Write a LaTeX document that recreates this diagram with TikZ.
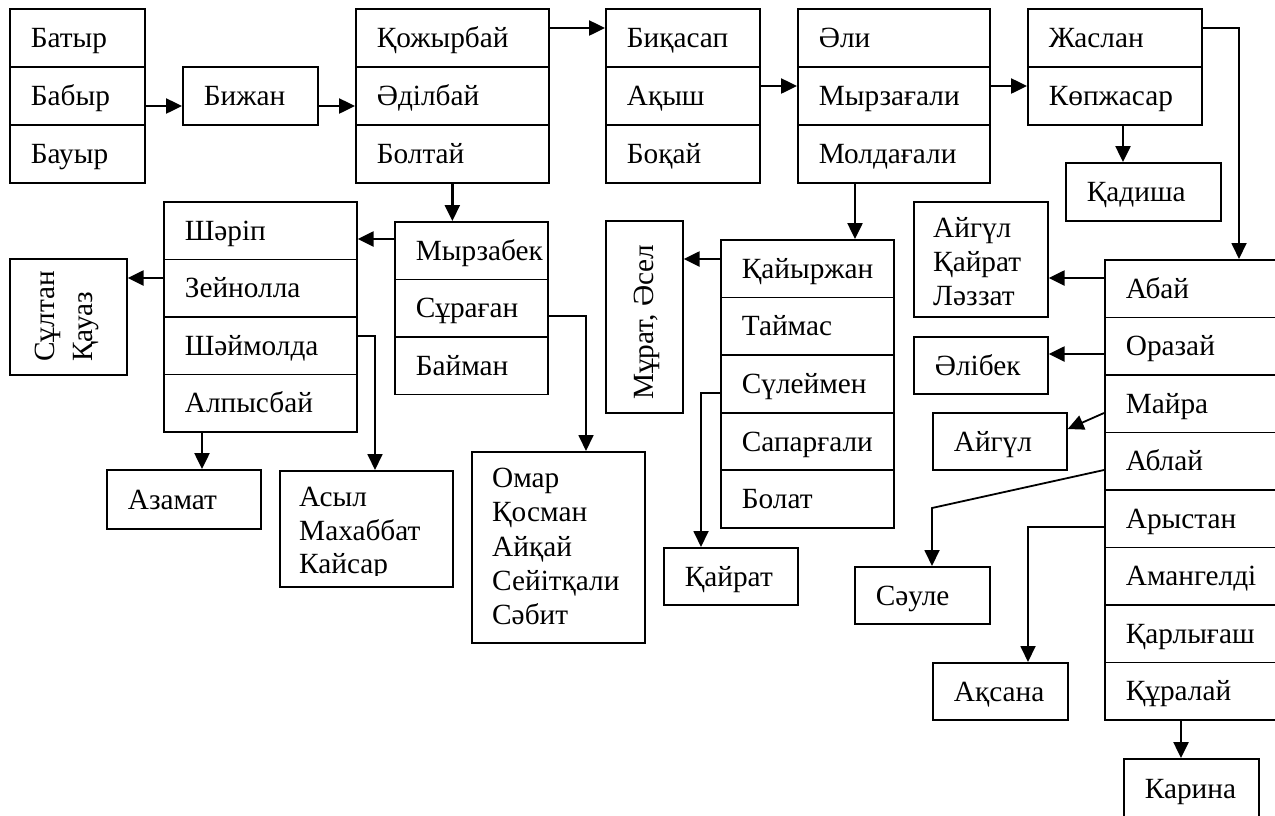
\documentclass[tikz,border=0pt]{standalone}
\usepackage{fontspec}
\usepackage{xfp}
\setmainfont{Liberation Serif}
\usetikzlibrary{arrows.meta}
\tikzset{
  box/.style={draw, line width=1.7pt, rectangle, inner ysep=0pt, inner xsep=21pt,
    anchor=north west, align=left, text height=19.4pt, text depth=0pt},
  arr/.style={-{Triangle[length=16pt,width=15pt]}, line width=2.5pt},
  arrthin/.style={-{Triangle[length=16pt,width=15pt]}, line width=1.8pt},
  lbl/.style={anchor=base west, inner sep=0pt},
}
\newcommand\rb[6]{\node[box,minimum width=#4pt,minimum height=#5pt,text width=\fpeval{#4-42}pt] (#1) at (#2,#3) {#6};}
\begin{document}
\begin{tikzpicture}[x=1pt,y=-1pt,font=\fontsize{29.3}{34}\selectfont]
\useasboundingbox (0,0) rectangle (1275,815);
\fill[white] (0,0) rectangle (1275,815);
\clip (0,0) rectangle (1275,815);
% stack A
\rb{batyr}{9}{8}{135}{58}{Батыр}
\rb{babyr}{9}{66}{135}{58}{Бабыр}
\rb{bauyr}{9}{124}{135}{58}{Бауыр}
\rb{bizhan}{182}{66}{135}{58}{Бижан}
% stack C
\rb{kozh}{355}{8}{193}{58}{Қожырбай}
\rb{adil}{355}{66}{193}{58}{Әділбай}
\rb{boltai}{355}{124}{193}{58}{Болтай}
% stack D
\rb{bikasap}{605}{8}{154}{58}{Биқасап}
\rb{akysh}{605}{66}{154}{58}{Ақыш}
\rb{bokai}{605}{124}{154}{58}{Боқай}
% stack E
\rb{eli}{797}{8}{192}{58}{Әли}
\rb{myrza}{797}{66}{192}{58}{Мырзағали}
\rb{molda}{797}{124}{192}{58}{Молдағали}
% stack F
\rb{zhaslan}{1027}{8}{174}{58}{Жаслан}
\rb{kopzh}{1027}{66}{174}{58}{Көпжасар}
\rb{kadisha}{1065}{162}{155}{58}{Қадиша}
% stack G
\rb{sharip}{163}{201}{193}{57.5}{Шәріп}
\rb{zein}{163}{258.5}{193}{57.5}{Зейнолла}
\rb{shaim}{163}{316}{193}{57.5}{Шәймолда}
\rb{alpys}{163}{373.5}{193}{57.5}{Алпысбай}
\node[box,minimum width=117pt,minimum height=116pt,text width=75pt] (sultan) at (9,258) {};
\node[lbl,rotate=90] at (54,362) {Сұлтан};
\node[lbl,rotate=90] at (92,362) {Қауаз};
\rb{azamat}{106}{469}{154}{59}{Азамат}
\node[box,minimum width=173pt,minimum height=116pt,text width=131pt] (asyl) at (279,470) {};
\begin{scope}
\clip (279,470) rectangle (452,575);
\node[lbl] at (299,506) {Асыл};
\node[lbl] at (299,540) {Махаббат};
\node[lbl] at (299,573) {Кайсар};
\end{scope}
% stack H
\rb{myrzabek}{394}{221}{153}{57.5}{Мырзабек}
\rb{suragan}{394}{278.5}{153}{57.5}{Сұраған}
\rb{baiman}{394}{336}{153}{57.5}{Байман}
\node[box,minimum width=173pt,minimum height=191pt,text width=131pt] (omar) at (471,451) {};
\node[lbl] at (492,487) {Омар};
\node[lbl] at (492,521.5) {Қосман};
\node[lbl] at (492,556) {Айқай};
\node[lbl] at (492,590) {Сейітқали};
\node[lbl] at (492,624) {Сәбит};
% stack I
\rb{kaiyr}{720}{239}{173}{57.6}{Қайыржан}
\rb{taimas}{720}{296.6}{173}{57.6}{Таймас}
\rb{suleimen}{720}{354.2}{173}{57.6}{Сүлеймен}
\rb{sapar}{720}{411.8}{173}{57.6}{Сапарғали}
\rb{bolat}{720}{469.4}{173}{57.6}{Болат}
\node[box,minimum width=77pt,minimum height=192pt,text width=35pt] (murat) at (605,220) {};
\node[lbl,rotate=90] at (653,400) {Мұрат, Әсел};
\rb{kairat}{663}{547}{134}{57}{Қайрат}
% right part
\node[box,minimum width=134pt,minimum height=115pt,text width=92pt] (aks) at (913,201) {};
\node[lbl] at (933,237) {Айгүл};
\node[lbl] at (933,271) {Қайрат};
\node[lbl] at (933,305) {Ләззат};
\rb{alibek}{913}{336}{134}{57}{Әлібек}
\rb{aigul}{932}{412}{134}{57}{Айгүл}
\rb{abai}{1104}{259}{200}{57.5}{Абай}
\rb{orazai}{1104}{316.5}{200}{57.5}{Оразай}
\rb{maira}{1104}{374}{200}{57.5}{Майра}
\rb{ablai}{1104}{431.5}{200}{57.5}{Аблай}
\rb{arystan}{1104}{489}{200}{57.5}{Арыстан}
\rb{amangeldi}{1104}{546.5}{200}{57.5}{Амангелді}
\rb{karlygash}{1104}{604}{200}{57.5}{Қарлығаш}
\rb{kuralai}{1104}{661.5}{200}{57.5}{Құралай}
\rb{saule}{854}{566}{135}{57}{Сәуле}
\rb{aksana}{932}{662}{135}{57}{Ақсана}
\rb{karina}{1123}{758}{135}{60}{Карина}
\coordinate (bend) at (932,508);
% connectors
\draw[arr] (babyr.east |- 0,106) -- (bizhan.west |- 0,106);
\draw[arr] (bizhan.east |- 0,106) -- (adil.west |- 0,106);
\draw[arr] (kozh.east |- 0,28) -- (bikasap.west |- 0,28);
\draw[arr] (akysh.east |- 0,86) -- (myrza.west |- 0,86);
\draw[arr] (myrza.east |- 0,86) -- (kopzh.west |- 0,86);
\draw[arr] (kopzh.south -| 1123,0) -- (kadisha.north -| 1123,0);
\draw[arrthin] (zhaslan.east |- 0,28) -| (abai.north -| 1239,0);
\draw[arr] (boltai.south) -- (boltai.south |- myrzabek.north);
\draw[arr] (myrzabek.west |- 0,239) -- (sharip.east |- 0,239);
\draw[arr] (zein.west |- 0,278) -- (sultan.east |- 0,278);
\draw[arr] (alpys.south -| 202,0) -- (azamat.north -| 202,0);
\draw[arrthin] (shaim.east |- 0,336) -| (asyl.north -| 375,0);
\draw[arrthin] (suragan.east |- 0,316) -| (omar.north -| 586,0);
\draw[arr] (molda.south -| 855,0) -- (kaiyr.north -| 855,0);
\draw[arr] (kaiyr.west |- 0,259) -- (murat.east |- 0,259);
\draw[arrthin] (suleimen.west |- 0,393) -| (kairat.north -| 701,0);
\draw[arr] (abai.west |- 0,278) -- (aks.east |- 0,278);
\draw[arr] (orazai.west |- 0,354) -- (alibek.east |- 0,354);
\draw[arrthin] (maira.west |- 0,413) -- (aigul.east |- 0,429);
\draw[arrthin] (ablai.west |- 0,470) -- (bend) -- (saule.north -| bend);
\draw[arrthin] (arystan.west |- 0,527) -| (aksana.north -| 1028,0);
\draw[arr] (kuralai.south -| 1181,0) -- (karina.north -| 1181,0);
\end{tikzpicture}
\end{document}
